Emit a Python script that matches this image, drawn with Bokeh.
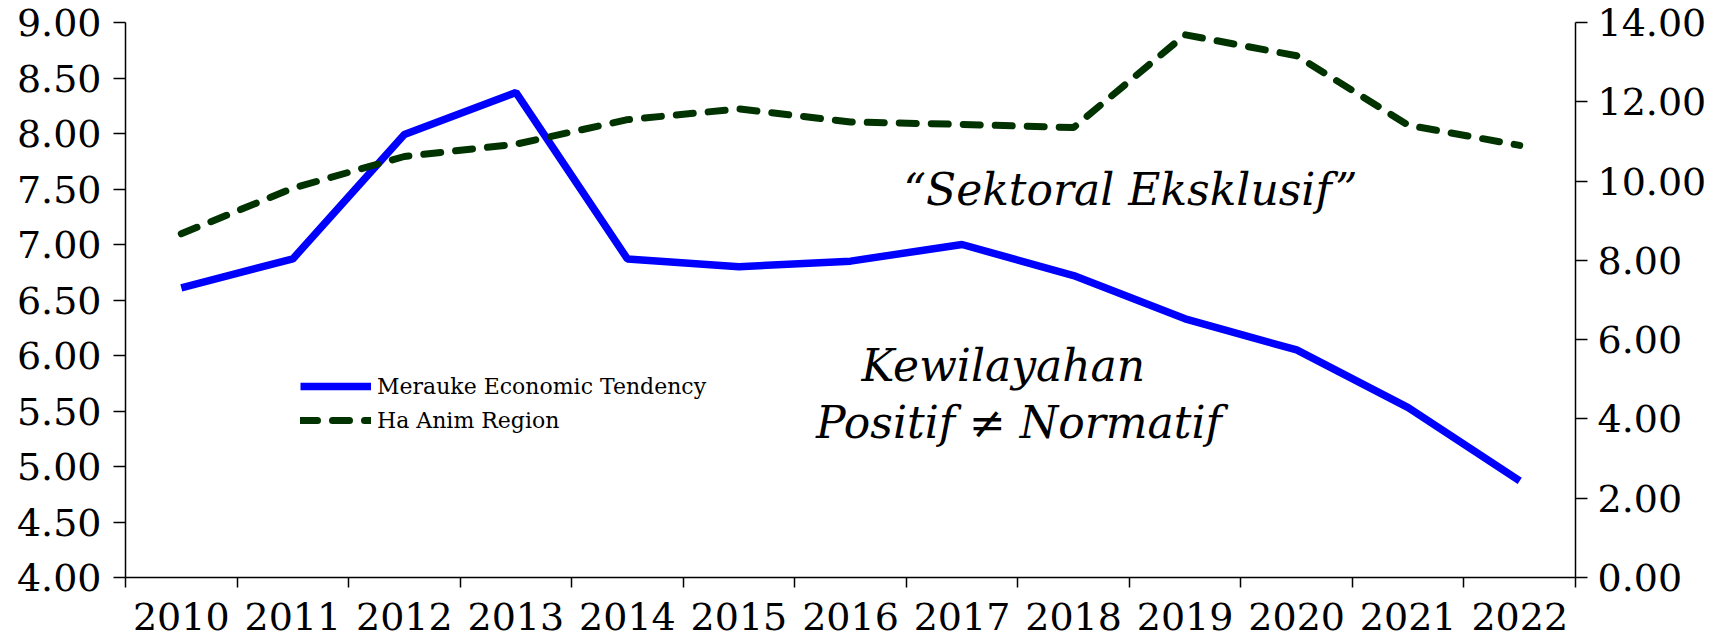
from bokeh.plotting import figure
from bokeh.models import (Range1d, LinearAxis, FixedTicker, NumeralTickFormatter,
                          Legend, LegendItem, Label, ColumnDataSource)
from bokeh.embed import file_html
from bokeh.resources import INLINE

years = [2010, 2011, 2012, 2013, 2014, 2015, 2016, 2017, 2018, 2019, 2020, 2021, 2022]
merauke = [6.61, 6.87, 7.99, 8.37, 6.87, 6.80, 6.85, 7.00, 6.72, 6.33, 6.05, 5.53, 4.87]
ha_anim = [8.67, 9.82, 10.62, 10.93, 11.55, 11.82, 11.49, 11.43, 11.35, 13.69, 13.16, 11.41, 10.90]
left_ticks = [4.0, 4.5, 5.0, 5.5, 6.0, 6.5, 7.0, 7.5, 8.0, 8.5, 9.0]
right_ticks = [0, 2, 4, 6, 8, 10, 12, 14]
series_names = ["Merauke Economic Tendency", "Ha Anim Region"]

FONT = "DejaVu Serif"
xpos = [i + 0.5 for i in range(len(years))]
src = ColumnDataSource(dict(x=xpos, m=merauke, h=ha_anim))

p = figure(width=1733, height=638, output_backend="svg", toolbar_location=None,
           x_range=Range1d(0, len(years)), y_range=Range1d(4, 9),
           min_border_left=125, min_border_right=158, min_border_top=22,
           min_border_bottom=61)
p.extra_y_ranges = {"right": Range1d(0, 14)}
p.outline_line_color = None
p.xgrid.visible = False
p.ygrid.visible = False
p.background_fill_color = "white"
p.border_fill_color = "white"

# x axis
xa = p.xaxis[0]
xa.ticker = FixedTicker(ticks=xpos, minor_ticks=list(range(len(years) + 1)))
xa.major_label_overrides = {x: str(y) for x, y in zip(xpos, years)}
xa.major_tick_line_color = None
xa.major_tick_out = 0
xa.major_tick_in = 0
xa.minor_tick_out = 10
xa.minor_tick_in = 0
xa.minor_tick_line_color = "black"
xa.minor_tick_line_width = 1.5
xa.major_label_standoff = 15

# left axis
ya = p.yaxis[0]
ya.ticker = FixedTicker(ticks=left_ticks)
ya.formatter = NumeralTickFormatter(format="0.00")
ya.minor_tick_line_color = None
ya.major_tick_out = 12
ya.major_tick_in = 0
ya.major_label_standoff = 12

ra = LinearAxis(y_range_name="right", ticker=FixedTicker(ticks=right_ticks),
                formatter=NumeralTickFormatter(format="0.00"))
ra.minor_tick_line_color = None
ra.major_tick_out = 12
ra.major_tick_in = 0
ra.major_label_standoff = 10
p.add_layout(ra, "right")

for ax in [xa, ya, ra]:
    ax.axis_line_color = "black"
    ax.axis_line_width = 1.5
    ax.major_tick_line_width = 1.5 if ax is not xa else 0
    ax.major_label_text_font = FONT
    ax.major_label_text_font_size = "38px"
    ax.major_label_text_color = "black"

r1 = p.line("x", "m", source=src, line_color="#0000FF", line_width=7.5)
r2 = p.line("x", "h", source=src, y_range_name="right", line_color="#003300",
            line_width=7, line_dash="17 15", line_cap="round")

legend = Legend(items=[LegendItem(label=series_names[0], renderers=[r1]),
                       LegendItem(label=series_names[1], renderers=[r2])],
                location=(175, 140), background_fill_alpha=0, border_line_color=None,
                padding=0, margin=0, spacing=0, glyph_width=71, glyph_height=34,
                label_height=34, label_standoff=6, label_text_font=FONT,
                label_text_font_size="22px", label_text_color="black")
p.add_layout(legend, "center")

for txt, x, y in [("\u201cSektoral Eksklusif\u201d", 9.01, 7.50),
                  ("Kewilayahan", 7.87, 5.91),
                  ("Positif \u2260 Normatif", 8.01, 5.40)]:
    p.add_layout(Label(x=x, y=y, text=txt, text_font=FONT, text_font_style="italic",
                       text_font_size="44px", text_align="center",
                       text_baseline="middle", text_color="black"))

open("out.html", "w").write(file_html(p, INLINE))
